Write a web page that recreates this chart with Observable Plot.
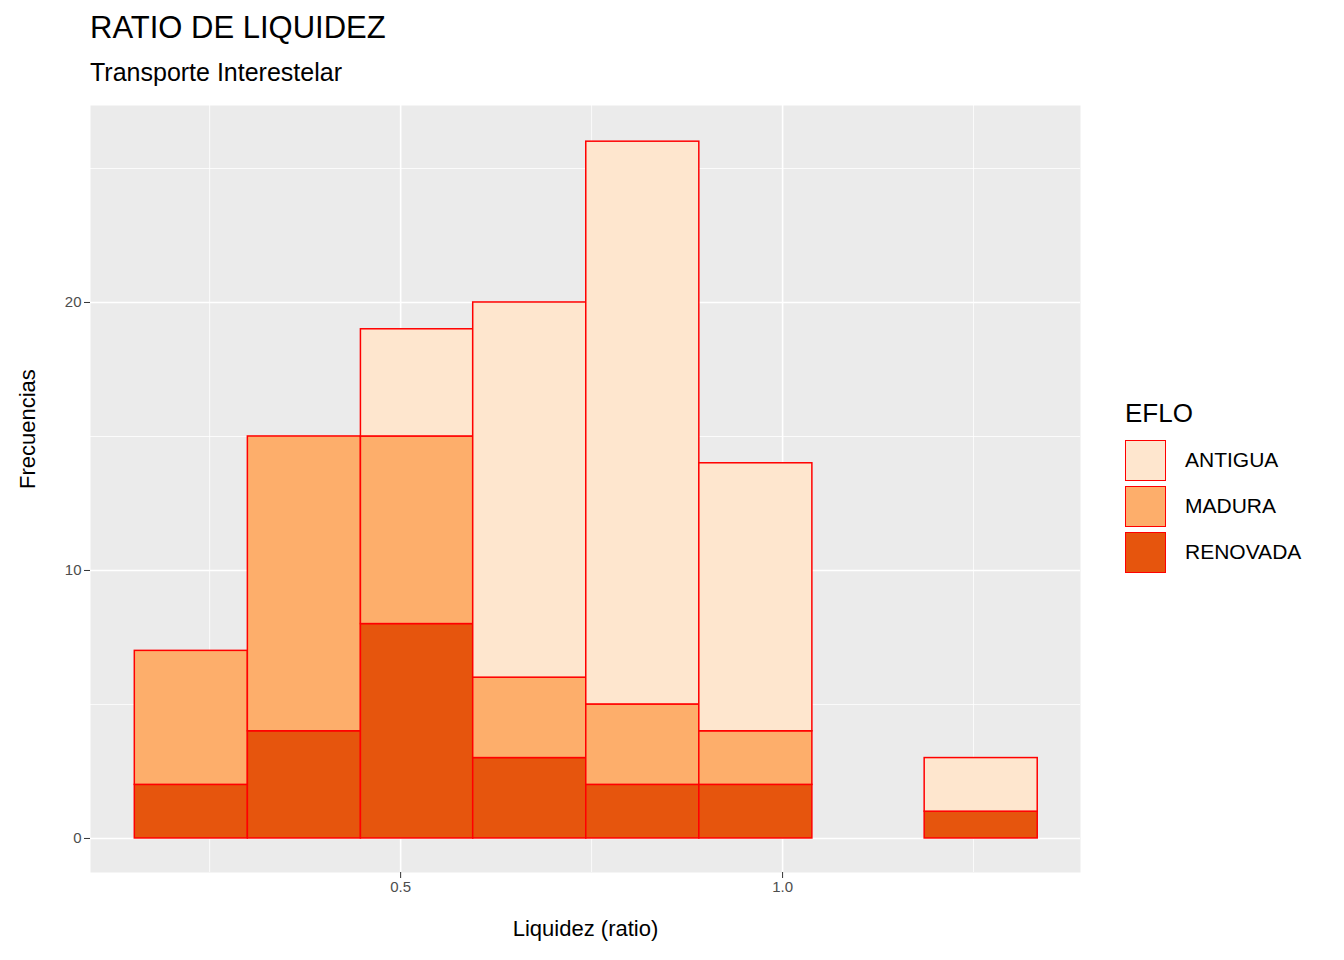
<!DOCTYPE html>
<html><head><meta charset="utf-8">
<script src="https://cdn.jsdelivr.net/npm/d3@7"></script>
<script src="https://cdn.jsdelivr.net/npm/@observablehq/plot@0.6"></script>
<style>
body{margin:0;font-family:Arial,"Liberation Sans",sans-serif;background:#fff}
#wrap{position:relative;width:1344px;height:960px}
#t{position:absolute;left:90px;top:10px;font-size:31px;color:#000}
#s{position:absolute;left:90px;top:58px;font-size:25px;color:#000}
#chart{position:absolute;left:0;top:95px}
#leg{position:absolute;left:1125px;top:398px;font-size:22px}
.it{display:flex;align-items:center;height:46px;font-size:21px}
.sw{width:41px;height:41px;box-sizing:border-box;border:1.5px solid red;margin-right:19px}
</style></head><body>
<div id="wrap">
<div id="t">RATIO DE LIQUIDEZ</div>
<div id="s">Transporte Interestelar</div>
<div id="chart"></div>
<div id="leg"><div style="font-size:26px;margin-bottom:8px">EFLO</div></div>
</div>
<script>
// bordes de los bins
const edges = [0.152, 0.300, 0.448, 0.595, 0.743, 0.891, 1.039, 1.186, 1.334]
const grupos = ['RENOVADA', 'MADURA', 'ANTIGUA']
const colores = ['#E6550D', '#FDAE6B', '#FEE6CE']
const renovada = [2, 4, 8, 3, 2, 2, 0, 1]
const madura = [5, 11, 7, 3, 3, 2, 0, 0]
const antigua = [0, 0, 4, 14, 21, 10, 0, 2]

const series = [renovada, madura, antigua]
const data = []
for (let i = 0; i < edges.length - 1; i++) {
  let acc = 0
  series.forEach((s, g) => {
    data.push({x1: edges[i], x2: edges[i+1], y1: acc, y2: acc + s[i], grupo: grupos[g]})
    acc += s[i]
  })
}

const chart = Plot.plot({
  width: 1344, height: 865,
  marginLeft: 90, marginRight: 264, marginTop: 10, marginBottom: 88,
  style: {fontFamily: 'Arial, "Liberation Sans", sans-serif', fontSize: '15px', color: '#4D4D4D'},
  x: {domain: [0.094, 1.39], ticks: [0.5, 1.0], tickFormat: d3.format('.1f'), label: null, tickSize: 5, tickPadding: 8},
  y: {domain: [-1.27, 27.35], ticks: [0, 10, 20], label: null, tickSize: 5, tickPadding: 6},
  color: {domain: grupos, range: colores},
  marks: [
    Plot.frame({fill: '#EBEBEB', stroke: null}),
    Plot.ruleX([0.25, 0.75, 1.25], {stroke: 'white', strokeWidth: 0.8}),
    Plot.ruleY([5, 15, 25], {stroke: 'white', strokeWidth: 0.8}),
    Plot.ruleX([0.5, 1.0], {stroke: 'white', strokeWidth: 1.6}),
    Plot.ruleY([0, 10, 20], {stroke: 'white', strokeWidth: 1.6}),
    Plot.rect(data, {x1: 'x1', x2: 'x2', y1: 'y1', y2: 'y2', fill: 'grupo', stroke: 'red', strokeWidth: 1.5}),
    Plot.axisX({ticks: [0.5, 1.0], tickFormat: d3.format('.1f'), label: null, stroke: '#333', fontSize: 15}),
    Plot.axisY({ticks: [0, 10, 20], label: null, stroke: '#333', fontSize: 15}),
    Plot.text(['Liquidez (ratio)'], {frameAnchor: 'bottom', dy: 63, fontSize: 22, fill: '#000'}),
    Plot.text(['Frecuencias'], {frameAnchor: 'left', dx: -63, rotate: -90, fontSize: 22, fill: '#000'})
  ]
})
document.getElementById('chart').append(chart)

const leg = document.getElementById('leg')
;[['ANTIGUA', '#FEE6CE'], ['MADURA', '#FDAE6B'], ['RENOVADA', '#E6550D']].forEach(([n, c]) => {
  const d = document.createElement('div'); d.className = 'it'
  d.innerHTML = `<div class="sw" style="background:${c}"></div>${n}`
  leg.append(d)
})
</script>
</body></html>
